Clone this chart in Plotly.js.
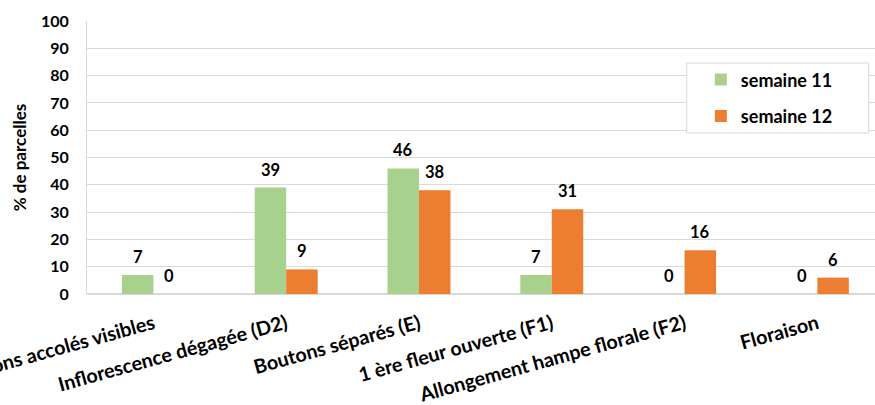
<!DOCTYPE html>
<html>
<head>
<meta charset="utf-8">
<script src="https://cdn.plot.ly/plotly-3.0.1.min.js"></script>
<style>html,body{margin:0;padding:0;background:#fff}</style>
</head>
<body>
<div id="chart" style="width:875px;height:405px"></div>
<script>
const categories = ["Boutons accolés visibles", "Inflorescence dégagée (D2)", "Boutons séparés (E)", "1 ère fleur ouverte (F1)", "Allongement hampe florale (F2)", "Floraison"];
const semaine11 = [7, 39, 46, 7, 0, 0];
const semaine12 = [0, 9, 38, 31, 16, 6];
const yTicks = [0, 10, 20, 30, 40, 50, 60, 70, 80, 90, 100];

const FONT = "Lato, 'Open Sans', sans-serif";
const labelFont = {family: FONT, size: 16.5, color: "#000", weight: 700};

const traces = [
  {type: "bar", name: "semaine 11", x: categories, y: semaine11, legendgroup: "a",
   marker: {color: "#A9D18E"}, hoverinfo: "skip"},
  {type: "bar", name: "semaine 12", x: categories, y: semaine12, legendgroup: "b",
   marker: {color: "#ED7D31"}, hoverinfo: "skip"}
];

const BAR_HALF = 15.75;
const annotations = [];
[[semaine11, -BAR_HALF], [semaine12, BAR_HALF]].forEach(([vals, dx]) => {
  vals.forEach((v, j) => {
    annotations.push({x: categories[j], y: v, xref: "x", yref: "y", text: String(v),
      showarrow: false, xanchor: "center", yanchor: "bottom", xshift: dx, yshift: 6,
      font: labelFont});
  });
});

const layout = {
  width: 875, height: 405,
  margin: {l: 87, r: 0, t: 21, b: 110.5},
  paper_bgcolor: "#fff", plot_bgcolor: "#fff",
  barmode: "group", bargap: 0.526, bargroupgap: 0,
  font: {family: FONT, size: 15, color: "#000", weight: 700},
  showlegend: true,
  legend: {x: 0.779, y: 0.852, xanchor: "left", yanchor: "top",
           bgcolor: "rgba(0,0,0,0)", borderwidth: 0,
           font: {family: FONT, size: 18, color: "#000", weight: 700},
           traceorder: "grouped", tracegroupgap: 10},
  xaxis: {type: "category", range: [-0.5, 5.434], tickangle: -15.5,
          showgrid: false, zeroline: false, showline: false, ticks: "",
          ticklabelstandoff: 14,
          tickfont: {family: FONT, size: 19.7, color: "#000", weight: 700}},
  yaxis: {range: [0, 100], tickvals: yTicks, ticktext: yTicks.map(String),
          showgrid: true, gridcolor: "#D9D9D9", gridwidth: 1,
          zeroline: true, zerolinecolor: "#D9D9D9", zerolinewidth: 1.5,
          showline: true, linecolor: "#D9D9D9", linewidth: 1, ticks: "",
          ticklabelstandoff: 14,
          tickfont: {family: FONT, size: 16, color: "#000", weight: 700},
          title: {text: "% de parcelles", standoff: 10,
                  font: {family: FONT, size: 17, color: "#000", weight: 700}}},
  annotations: annotations,
  shapes: [{type: "rect", xref: "paper", yref: "paper", layer: "above",
            x0: 0.761, x1: 0.992, y0: 0.59, y1: 0.846,
            fillcolor: "#fff", line: {color: "#D9D9D9", width: 1}}]
};

Plotly.newPlot("chart", traces, layout, {displayModeBar: false, staticPlot: true});
</script>
</body>
</html>
